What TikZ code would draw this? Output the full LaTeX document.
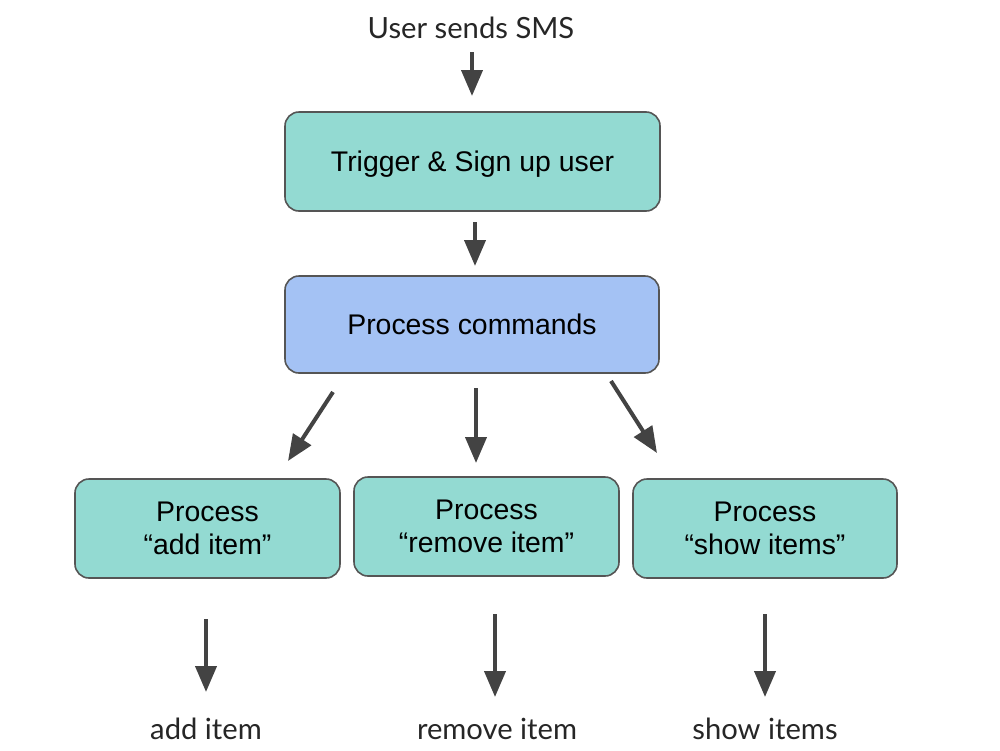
\documentclass[tikz,border=0pt]{standalone}
\usepackage{fontspec}
\setmainfont{Liberation Sans}
\newfontfamily\labelfont{Lato}
\usetikzlibrary{arrows.meta}
\definecolor{tealfill}{HTML}{93DAD2}
\definecolor{bluefill}{HTML}{A4C2F4}
\definecolor{edgegray}{HTML}{555555}
\definecolor{arrowgray}{HTML}{434343}
\tikzset{
  boxstyle/.style={draw=edgegray, line width=0.8pt, rounded corners=7pt, fill=tealfill,
    align=center, inner sep=0pt, font=\fontsize{14.2}{16.5}\selectfont},
  onelinebox/.style={boxstyle, text depth=0pt},
  bluebox/.style={onelinebox, fill=bluefill},
  flowarrow/.style={draw=arrowgray, line width=2pt, -{Triangle[width=10.5pt,length=13pt]}},
  plainlabel/.style={font=\labelfont\fontsize{14.6}{17}\selectfont, text=black!85, inner sep=0pt}
}
\begin{document}
\begin{tikzpicture}[x=0.5pt,y=-0.5pt]
\useasboundingbox (0,0) rectangle (1000,750);
\fill[white] (0,0) rectangle (1000,750);

\node[plainlabel] (sms) at (471,28) {User sends SMS};

\node[onelinebox, minimum width=187.5pt, minimum height=49.5pt] (trigger) at (472.5,161.5) {Trigger \& Sign up user};
\node[bluebox, minimum width=187pt, minimum height=48.5pt] (process) at (472,324.5) {Process commands};

\node[boxstyle, minimum width=132.5pt, minimum height=49.5pt] (add) at (207.5,528.5) {Process\\“add item”};
\node[boxstyle, minimum width=132.5pt, minimum height=49.5pt] (remove) at (486.5,526.5) {Process\\“remove item”};
\node[boxstyle, minimum width=132pt, minimum height=49.5pt] (show) at (765,528.5) {Process\\“show items”};

\node[plainlabel] (addl) at (206,729) {add item};
\node[plainlabel] (removel) at (497,729) {remove item};
\node[plainlabel] (showl) at (765,729) {show items};

\coordinate (a1s) at (472,52);   \coordinate (a1e) at (472,96);
\coordinate (a2s) at (475,222);  \coordinate (a2e) at (475,266);
\coordinate (a3s) at (333,392);  \coordinate (a3e) at (288,461);
\coordinate (a4s) at (476,388);  \coordinate (a4e) at (476,463);
\coordinate (a5s) at (611,381);  \coordinate (a5e) at (657,453);
\coordinate (a6s) at (206,619);  \coordinate (a6e) at (206,692);
\coordinate (a7s) at (495,614);  \coordinate (a7e) at (495,697);
\coordinate (a8s) at (765,614);  \coordinate (a8e) at (765,697);

\draw[flowarrow] (a1s) -- (a1e);
\draw[flowarrow] (a2s) -- (a2e);
\draw[flowarrow] (a3s) -- (a3e);
\draw[flowarrow] (a4s) -- (a4e);
\draw[flowarrow] (a5s) -- (a5e);
\draw[flowarrow] (a6s) -- (a6e);
\draw[flowarrow] (a7s) -- (a7e);
\draw[flowarrow] (a8s) -- (a8e);
\end{tikzpicture}
\end{document}
